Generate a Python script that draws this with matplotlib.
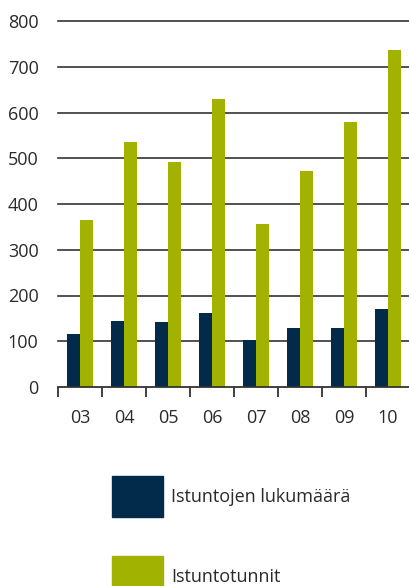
import numpy as np
import matplotlib.pyplot as plt
from matplotlib.patches import Rectangle

plt.rcParams['font.family'] = ['Open Sans', 'DejaVu Sans']

years = ['03', '04', '05', '06', '07', '08', '09', '10']
istunnot = [116, 144, 142, 162, 103, 129, 129, 170]
tunnit = [365, 535, 492, 629, 356, 472, 579, 736]
series = ['Istuntojen lukumäärä', 'Istuntotunnit']
colors = ['#022a4a', '#a2b200']
yticks = [0, 100, 200, 300, 400, 500, 600, 700, 800]

fig = plt.figure(figsize=(4.10, 5.86), dpi=100)
ax = fig.add_axes([58/410, 199/586, 352/410, 366/586])

x = np.arange(len(years))
w = 0.3
ax.bar(x - w/2, istunnot, width=w, color=colors[0], zorder=3)
ax.bar(x + w/2, tunnit, width=w, color=colors[1], zorder=3)

ax.set_xlim(-0.5, len(years) - 0.5)
ax.set_ylim(0, 800)
ax.set_yticks(yticks)
for t in yticks[1:]:
    ax.axhline(t, color='#333333', lw=1.2, zorder=1, clip_on=False)

ax.set_xticks(np.arange(len(years) + 1) - 0.5)
ax.set_xticklabels([])
ax.set_xticks(x, minor=True)
ax.set_xticklabels(years, minor=True)
ax.tick_params(axis='x', which='major', length=7, width=1.3, color='#333333', direction='out')
ax.tick_params(axis='x', which='minor', length=0, pad=16, labelsize=13, labelcolor='#2a2a2a')
ax.tick_params(axis='y', length=0, pad=14, labelsize=13, labelcolor='#2a2a2a')

for s in ['top', 'right', 'left']:
    ax.spines[s].set_visible(False)
ax.spines['bottom'].set_color('#333333')
ax.spines['bottom'].set_linewidth(1.3)
ax.spines['bottom'].set_zorder(4)

# legend boxes
leg_y = [476, 556]
text_y = [497, 577]
for i in range(2):
    fig.add_artist(Rectangle((112/410, 1 - (leg_y[i] + 41)/586), 51/410, 41/586,
                             transform=fig.transFigure, color=colors[i]))
    fig.text(171/410, 1 - text_y[i]/586, series[i], fontsize=13, color='#2a2a2a',
             va='center', ha='left')

fig.savefig('out.png', dpi=100)
